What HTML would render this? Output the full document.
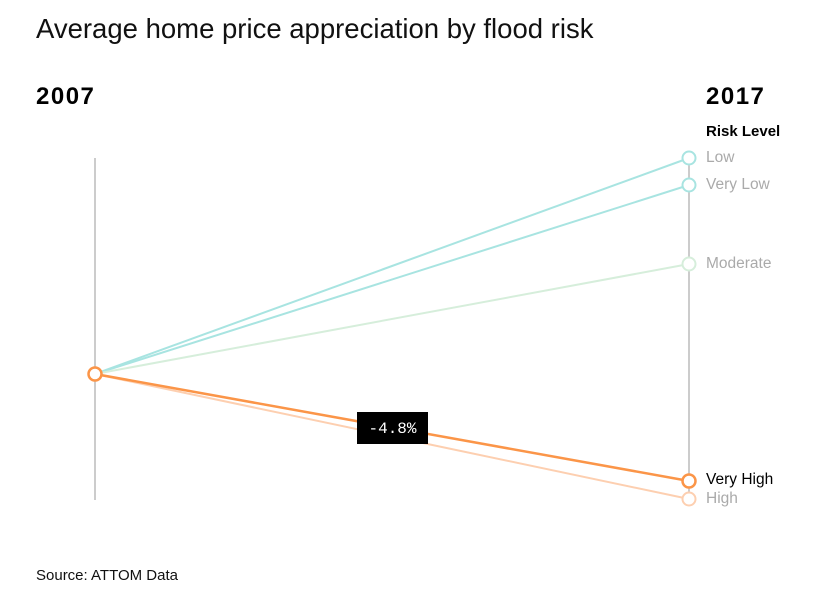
<!DOCTYPE html>
<html><head><style>
body{margin:0;background:#fff;width:824px;height:595px;overflow:hidden;font-family:"Liberation Sans",sans-serif}
</style></head><body>
<svg width="824" height="595" xmlns="http://www.w3.org/2000/svg" font-family="Liberation Sans, sans-serif">
<text x="36" y="38" font-size="27.5" fill="#111">Average home price appreciation by flood risk</text>
<text x="36" y="104" font-size="24" font-weight="bold" fill="#000" letter-spacing="1.5">2007</text>
<text x="706" y="104" font-size="24" font-weight="bold" fill="#000" letter-spacing="1.5">2017</text>
<text x="706" y="136" font-size="15" font-weight="bold" fill="#000">Risk Level</text>
<line x1="95" y1="158" x2="95" y2="500" stroke="#999" stroke-width="1"/>
<line x1="689" y1="158" x2="689" y2="500" stroke="#999" stroke-width="1"/>
<g stroke-width="2" fill="none">
<line x1="95" y1="374" x2="689" y2="158" stroke="#a8e4e1"/>
<line x1="95" y1="374" x2="689" y2="185" stroke="#a8e4e1"/>
<line x1="95" y1="374" x2="689" y2="264" stroke="#d6eedb"/>
<line x1="95" y1="374" x2="689" y2="499" stroke="#fdcfb0"/>
<line x1="95" y1="374" x2="689" y2="481" stroke="#fb9548" stroke-width="2.5"/>
<circle cx="689" cy="158" r="6.5" fill="#fff" stroke="#a8e4e1"/>
<circle cx="689" cy="185" r="6.5" fill="#fff" stroke="#a8e4e1"/>
<circle cx="689" cy="264" r="6.5" fill="#fff" stroke="#d6eedb"/>
<circle cx="689" cy="499" r="6.5" fill="#fff" stroke="#fdcfb0"/>
<circle cx="689" cy="481" r="6.5" fill="#fff" stroke="#fb9548" stroke-width="2.5"/>
<circle cx="95" cy="374" r="6.5" fill="#fff" stroke="#fb9548" stroke-width="2.5"/>
</g>
<g font-size="15.5" fill="#aaa">
<text x="706" y="162">Low</text>
<text x="706" y="189">Very Low</text>
<text x="706" y="268">Moderate</text>
<text x="706" y="484" fill="#000">Very High</text>
<text x="706" y="503">High</text>
</g>
<rect x="357" y="412" width="71" height="32" fill="#000"/>
<text x="392.5" y="433" font-size="16" fill="#fff" text-anchor="middle" font-family="Liberation Mono, monospace">-4.8%</text>
<text x="36" y="580" font-size="15" fill="#111">Source: ATTOM Data</text>
</svg>
</body></html>
